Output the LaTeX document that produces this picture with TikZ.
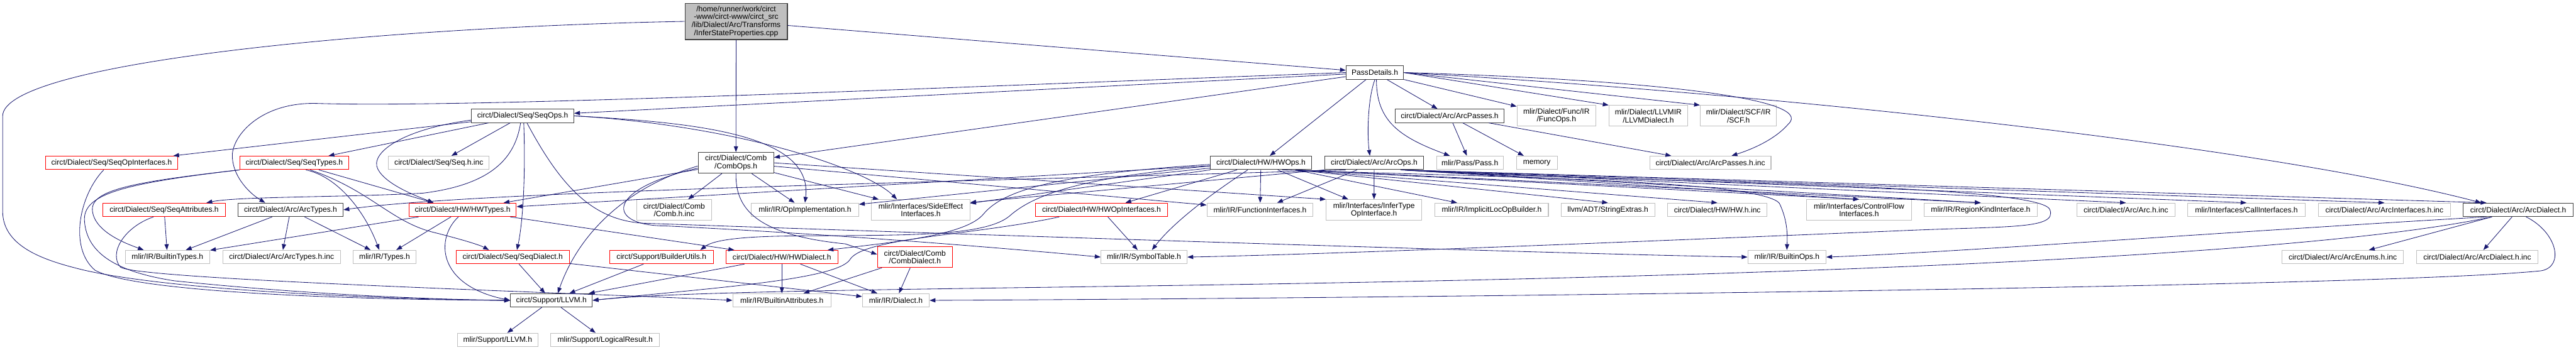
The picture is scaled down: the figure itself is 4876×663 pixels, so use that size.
\documentclass[tikz,border=0pt]{standalone}
\usepackage{fontspec}
\setmainfont{Liberation Sans}
\usetikzlibrary{arrows.meta}
\definecolor{edgeblue}{HTML}{191970}
\definecolor{extgray}{HTML}{BFBFBF}
\definecolor{docgray}{HTML}{404040}

\begin{document}
\begin{tikzpicture}[x=1pt, y=-1pt,
	box/.style={rectangle, line width=1.2pt, inner xsep=4pt, inner ysep=2pt, minimum height=25.5pt, align=center, font=\fontsize{14.4}{15}\selectfont},
	docbox/.style={box, draw=docgray},
	redbox/.style={box, draw=red},
	extbox/.style={box, draw=extgray},
	tall/.style={minimum height=39.5pt},
	edge/.style={draw=edgeblue, line width=1pt, -{Triangle[length=11pt,width=8pt]}}]
			\useasboundingbox (0,0) rectangle (4876,663);
			\node[docbox, fill=extgray, minimum width=194pt, minimum height=69pt](root) at (1393.4,40.5){/home/runner/work/circt\\-www/circt-www/circt\_src\\/lib/Dialect/Arc/Transforms\\/InferStateProperties.cpp};
			\node[docbox, minimum width=108.8pt](passdet) at (2602.4,137.5){PassDetails.h};
			\node[docbox, minimum width=193.5pt](seqops) at (989.4,219.5){circt/Dialect/Seq/SeqOps.h};
			\node[docbox, minimum width=206.6pt](arcpasses) at (2744,219.5){circt/Dialect/Arc/ArcPasses.h};
			\node[extbox, tall, minimum width=149pt](funcops) at (2946,219.5){mlir/Dialect/Func/IR\\/FuncOps.h};
			\node[extbox, tall, minimum width=149pt](llvmdialect) at (3120,219.5){mlir/Dialect/LLVMIR\\/LLVMDialect.h};
			\node[extbox, tall, minimum width=144.4pt](scf) at (3290.5,219.5){mlir/Dialect/SCF/IR\\/SCF.h};
			\node[redbox, minimum width=250pt](seqopint) at (211.3,308.5){circt/Dialect/Seq/SeqOpInterfaces.h};
			\node[redbox, minimum width=205.5pt](seqtypes) at (557,308.5){circt/Dialect/Seq/SeqTypes.h};
			\node[extbox, minimum width=190.6pt](seqinc) at (830.7,308.5){circt/Dialect/Seq/Seq.h.inc};
			\node[docbox, tall, minimum width=143pt](combops) at (1393,308.5){circt/Dialect/Comb\\/CombOps.h};
			\node[docbox, minimum width=190.7pt](hwops) at (2386.7,308.5){circt/Dialect/HW/HWOps.h};
			\node[docbox, minimum width=186.7pt](arcops) at (2601,308.5){circt/Dialect/Arc/ArcOps.h};
			\node[extbox, minimum width=126.6pt](pass) at (2782.3,308.5){mlir/Pass/Pass.h};
			\node[extbox, minimum width=77pt](memory) at (2909,308.5){memory};
			\node[extbox, minimum width=229.4pt](arcpassinc) at (3237.5,308.5){circt/Dialect/Arc/ArcPasses.h.inc};
			\node[redbox, minimum width=232pt](seqattr) at (310.7,397.5){circt/Dialect/Seq/SeqAttributes.h};
			\node[docbox, minimum width=199pt](arctypes) at (550,397.5){circt/Dialect/Arc/ArcTypes.h};
			\node[redbox, minimum width=203pt](hwtypes) at (875.7,397.5){circt/Dialect/HW/HWTypes.h};
			\node[extbox, tall, minimum width=142pt](combinc) at (1276,398){circt/Dialect/Comb\\/Comb.h.inc};
			\node[extbox, minimum width=203pt](opimpl) at (1523.7,397.5){mlir/IR/OpImplementation.h};
			\node[extbox, tall, minimum width=186pt](sideeffect) at (1742.8,398){mlir/Interfaces/SideEffect\\Interfaces.h};
			\node[redbox, minimum width=249pt](hwopint) at (2085,397.5){circt/Dialect/HW/HWOpInterfaces.h};
			\node[extbox, minimum width=201pt](funcint) at (2385,397.5){mlir/IR/FunctionInterfaces.h};
			\node[extbox, tall, minimum width=181pt](infertype) at (2600.8,398){mlir/Interfaces/InferType\\OpInterface.h};
			\node[extbox, minimum width=214.4pt](implicit) at (2823.6,397.5){mlir/IR/ImplicitLocOpBuilder.h};
			\node[extbox, minimum width=177.3pt](strext) at (3043.5,397.5){llvm/ADT/StringExtras.h};
			\node[extbox, minimum width=187.6pt](hwinc) at (3250.6,397.5){circt/Dialect/HW/HW.h.inc};
			\node[extbox, tall, minimum width=198pt](cfint) at (3518.8,398){mlir/Interfaces/ControlFlow\\Interfaces.h};
			\node[extbox, minimum width=213.4pt](regionkind) at (3749.2,397.5){mlir/IR/RegionKindInterface.h};
			\node[extbox, minimum width=185.6pt](arcinc) at (4024,397.5){circt/Dialect/Arc/Arc.h.inc};
			\node[extbox, minimum width=223pt](callint) at (4252.2,397.5){mlir/Interfaces/CallInterfaces.h};
			\node[extbox, minimum width=250pt](arcintinc) at (4513.4,397.5){circt/Dialect/Arc/ArcInterfaces.h.inc};
			\node[docbox, minimum width=208pt](arcdialect) at (4766.5,397.5){circt/Dialect/Arc/ArcDialect.h};
			\node[extbox, minimum width=160pt](builtintypes) at (317,487){mlir/IR/BuiltinTypes.h};
			\node[extbox, minimum width=223pt](arctypesinc) at (533,487){circt/Dialect/Arc/ArcTypes.h.inc};
			\node[extbox, minimum width=119pt](types) at (728,487){mlir/IR/Types.h};
			\node[redbox, minimum width=214pt](seqdialect) at (970.5,487){circt/Dialect/Seq/SeqDialect.h};
			\node[redbox, minimum width=196pt](builderutils) at (1252,487){circt/Support/BuilderUtils.h};
			\node[redbox, minimum width=212pt](hwdialect) at (1480,487){circt/Dialect/HW/HWDialect.h};
			\node[redbox, tall, minimum width=142pt](combdialect) at (1731.8,487){circt/Dialect/Comb\\/CombDialect.h};
			\node[extbox, minimum width=163pt](symtab) at (2165.4,487){mlir/IR/SymbolTable.h};
			\node[extbox, minimum width=148pt](builtinops) at (3382.3,487){mlir/IR/BuiltinOps.h};
			\node[extbox, minimum width=229.6pt](arcenums) at (4434.4,487){circt/Dialect/Arc/ArcEnums.h.inc};
			\node[extbox, minimum width=230.8pt](arcdialinc) at (4689,487){circt/Dialect/Arc/ArcDialect.h.inc};
			\node[docbox, minimum width=155pt](llvm) at (1043.7,569){circt/Support/LLVM.h};
			\node[extbox, minimum width=186pt](builtinattr) at (1480,569){mlir/IR/BuiltinAttributes.h};
			\node[extbox, minimum width=126.6pt](dialect) at (1695.7,569){mlir/IR/Dialect.h};
			\node[extbox, minimum width=152pt](mlirllvm) at (942,644){mlir/Support/LLVM.h};
			\node[extbox, minimum width=205.5pt](logicalres) at (1145.5,644){mlir/Support/LogicalResult.h};
			\draw[edge] (root) -- (passdet);
			\draw[edge] (root) -- (combops);
			\draw[edge] (root.west) .. controls (700,52) and (5,120) .. (5,220) -- (5,400) .. controls (5,470) and (90,495) .. (160,512) .. controls (350,555) and (800,568) .. (llvm.west);
			\draw[edge] (passdet) -- (seqops);
			\draw[edge] (passdet) -- (combops);
			\draw[edge] (passdet.west) .. controls (1800,165) and (900,205) .. (600,196) .. controls (500,193) and (445,250) .. (440,290) .. controls (437,330) and (470,365) .. ([xshift=-48pt]arctypes.north);
			\draw[edge] (passdet) -- (hwops);
			\draw[edge] (passdet.south) .. controls (2588,190) and (2588,260) .. ([xshift=-8pt]arcops.north);
			\draw[edge] ([xshift=3pt]passdet.south) .. controls (2605,230) and (2650,260) .. ([xshift=-38pt]pass.north);
			\draw[edge] (passdet) -- (arcpasses);
			\draw[edge] (passdet) -- (funcops);
			\draw[edge] (passdet.east) -- (llvmdialect.north west);
			\draw[edge] (passdet.east) -- (scf.north west);
			\draw[edge] (passdet.east) .. controls (3100,150) and (3440,185) .. (3385,235) .. controls (3355,270) and (3300,288) .. ([xshift=40pt]arcpassinc.north);
			\draw[edge] (passdet.east) .. controls (3400,180) and (4300,280) .. ([xshift=-70pt]arcdialect.north);
			\draw[edge] (arcpasses) -- (pass);
			\draw[edge] (arcpasses) -- (memory);
			\draw[edge] (arcpasses) -- (arcpassinc);
			\draw[edge] (seqops) -- (seqopint);
			\draw[edge] (seqops) -- (seqtypes);
			\draw[edge] (seqops) -- (seqinc);
			\draw[edge] ([yshift=-8pt]seqops.west) .. controls (760,245) and (700,290) .. (715,320) .. controls (730,350) and (790,372) .. ([xshift=-55pt]hwtypes.north);
			\draw[edge] ([xshift=-4pt]seqops.south) .. controls (975,300) and (930,350) .. (800,366) .. controls (650,374) and (450,372) .. ([xshift=80pt]seqattr.north);
			\draw[edge] ([xshift=2pt]seqops.south) .. controls (995,330) and (990,420) .. ([xshift=8pt]seqdialect.north);
			\draw[edge] ([xshift=8pt]seqops.south) .. controls (1060,350) and (1120,418) .. (1220,423) .. controls (2000,450) and (3000,482) .. (builtinops.west);
			\draw[edge] (seqops.east) .. controls (1300,232) and (1540,250) .. (opimpl.north);
			\draw[edge] (seqops.east) .. controls (1400,238) and (1640,320) .. ([xshift=-45pt]sideeffect.north);
			\draw[edge] ([xshift=-15pt]seqopint.south) .. controls (150,370) and (130,470) .. (180,512) .. controls (260,556) and (700,568) .. (llvm.west);
			\draw[edge] (seqtypes.south west) .. controls (250,345) and (170,360) .. (175,400) .. controls (180,440) and (240,462) .. ([xshift=-45pt]builtintypes.north);
			\draw[edge] (seqtypes.south west) .. controls (230,348) and (155,368) .. (160,420) .. controls (165,480) and (220,515) .. (330,532) .. controls (600,560) and (850,568) .. (llvm.west);
			\draw[edge] ([xshift=22pt]seqtypes.south) .. controls (640,335) and (690,400) .. ([xshift=-10pt]types.north);
			\draw[edge] ([xshift=30pt]seqtypes.south) .. controls (700,360) and (740,420) .. (820,440) .. controls (880,455) and (910,465) .. ([xshift=-45pt]seqdialect.north);
			\draw[edge] (seqtypes) -- ([xshift=-55pt]hwtypes.north);
			\draw[edge] (seqattr) -- (builtintypes);
			\draw[edge] ([xshift=-20pt]seqattr.south) .. controls (235,430) and (205,480) .. (228,506) .. controls (260,530) and (1100,555) .. (builtinattr.west);
			\draw[edge] (arctypes) -- (builtintypes);
			\draw[edge] (arctypes) -- (arctypesinc);
			\draw[edge] (arctypes) -- (types);
			\draw[edge] (hwtypes) -- (builtintypes);
			\draw[edge] (hwtypes) -- (types);
			\draw[edge] ([xshift=-8pt]hwtypes.south) .. controls (825,450) and (825,540) .. (llvm.west);
			\draw[edge] (hwtypes) -- (hwdialect);
			\draw[edge] (seqdialect) -- (llvm);
			\draw[edge] (seqdialect) -- (dialect);
			\draw[edge] (builderutils) -- (llvm);
			\draw[edge] (hwdialect) -- (llvm);
			\draw[edge] (hwdialect) -- (builtinattr);
			\draw[edge] (hwdialect) -- (dialect);
			\draw[edge] (combdialect) -- (builtinattr);
			\draw[edge] (combdialect) -- (dialect);
			\draw[edge] (combops) -- (hwtypes);
			\draw[edge] ([yshift=-6pt]combops.west) .. controls (1200,350) and (1100,430) .. ([xshift=12pt]llvm.north);
			\draw[edge] ([yshift=-10pt]combops.west) .. controls (1140,360) and (1150,428) .. (1260,428) .. controls (1600,445) and (1900,470) .. (symtab.west);
			\draw[edge] (combops) -- (combinc);
			\draw[edge] (combops) -- (opimpl);
			\draw[edge] (combops.south) .. controls (1392,395) and (1430,445) .. (1600,462) -- ([yshift=5pt]combdialect.west);
			\draw[edge] (combops) -- (sideeffect);
			\draw[edge] (combops) -- (funcint);
			\draw[edge] (combops.east) -- (infertype.north west);
			\draw[edge] (hwops) -- (hwtypes);
			\draw[edge] ([yshift=-3pt]hwops.west) .. controls (2000,330) and (1900,360) .. (1862,405) .. controls (1830,445) and (1700,458) .. ([xshift=-20pt]hwdialect.north east);
			\draw[edge] ([yshift=-6pt]hwops.west) .. controls (2060,335) and (1960,365) .. (1910,410) .. controls (1860,450) and (1700,445) .. (1500,447) .. controls (1400,448) and (1350,455) .. ([xshift=-25pt]builderutils.north east);
			\draw[edge] (hwops) -- (hwopint);
			\draw[edge] ([xshift=40pt]hwops.south) .. controls (2800,335) and (3330,340) .. (3368,385) .. controls (3385,420) and (3383,450) .. (builtinops.north);
			\draw[edge] (hwops) -- (funcint);
			\draw[edge] (hwops) -- (implicit);
			\draw[edge] (hwops) -- (opimpl);
			\draw[edge] ([xshift=-25pt]hwops.south) .. controls (2320,350) and (2230,410) .. ([xshift=15pt]symtab.north);
			\draw[edge] (hwops) -- (infertype);
			\draw[edge] (hwops) -- (sideeffect);
			\draw[edge] ([xshift=-30pt]hwops.south east) -- (strext.north);
			\draw[edge] ([xshift=-30pt]hwops.south east) -- (hwinc.north);
			\draw[edge] ([xshift=-30pt]hwops.south east) -- (cfint.north);
			\draw[edge] ([xshift=-30pt]hwops.south east) -- (regionkind.north);
			\draw[edge] (hwopint) -- (symtab);
			\draw[edge] ([xshift=-80pt]hwopint.south) .. controls (1850,445) and (1640,450) .. (1610,490) .. controls (1590,530) and (1350,545) .. (llvm.east);
			\draw[edge] ([xshift=40pt]arcops.south west) .. controls (1800,345) and (900,362) .. (arctypes.east);
			\draw[edge] (arcops) -- (funcint);
			\draw[edge] (arcops) -- (infertype);
			\draw[edge] (arcops.south west) -- ([yshift=-6pt]sideeffect.north east);
			\draw[edge] ([xshift=-40pt]arcops.south east) -- (cfint.north);
			\draw[edge] ([xshift=-40pt]arcops.south east) -- (regionkind.north);
			\draw[edge] ([xshift=-40pt]arcops.south east) -- (arcinc.north);
			\draw[edge] ([xshift=-40pt]arcops.south east) -- (callint.north);
			\draw[edge] ([xshift=-40pt]arcops.south east) -- (arcintinc.north);
			\draw[edge] ([xshift=-40pt]arcops.south east) -- ([xshift=-60pt]arcdialect.north);
			\draw[edge] ([xshift=50pt]arcops.south) .. controls (3000,345) and (3860,345) .. (3880,397) .. controls (3895,435) and (3800,428) .. (3600,437) .. controls (3000,462) and (2500,482) .. (symtab.east);
			\draw[edge] ([xshift=-60pt]arcdialect.south) .. controls (4200,440) and (3700,478) .. (builtinops.east);
			\draw[edge] ([xshift=-50pt]arcdialect.south) .. controls (4300,500) and (3000,528) .. (2400,538) .. controls (1800,548) and (1300,550) .. (llvm.east);
			\draw[edge] ([xshift=15pt]arcdialect.south) .. controls (4840,440) and (4855,505) .. (4810,513) .. controls (4500,545) and (2500,566) .. (dialect.east);
			\draw[edge] (arcdialect) -- (arcenums);
			\draw[edge] (arcdialect) -- (arcdialinc);
			\draw[edge] (llvm) -- (mlirllvm);
			\draw[edge] (llvm) -- (logicalres);
\end{tikzpicture}
\end{document}
